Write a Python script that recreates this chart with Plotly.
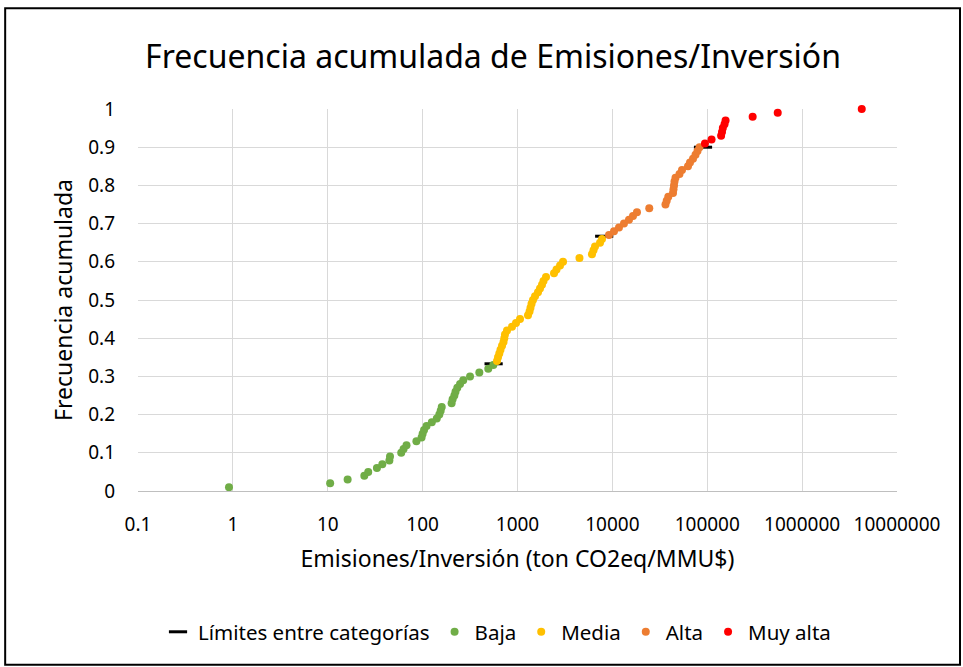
import plotly.graph_objects as go

# Cumulative frequency by emissions/investment ratio (ton CO2eq / MMU$)
baja_x = [0.91, 10.6, 16.2, 24.3, 26.7, 33, 37.6, 44.6, 45.3, 59.5, 63, 67.6, 86,
          97.5, 100, 103.5, 110, 125, 141, 150, 155, 159, 202, 207, 216, 222, 232,
          248, 268, 316, 396, 492, 556]
media_x = [608, 623, 643, 662, 687, 712, 726, 738, 775, 875, 964, 1063, 1290, 1339,
           1371, 1406, 1456, 1530, 1644, 1726, 1812, 1880, 1997, 2426, 2578, 2808,
           3019, 4500, 6095, 6323, 6561, 7408, 7780]
alta_x = [9210, 10400, 11740, 13250, 14960, 16490, 18160, 24480, 36290, 37380, 38850,
          43550, 44070, 44620, 45150, 46270, 50970, 54170, 62660, 65770, 70760, 75180,
          78920, 82850]
muy_alta_x = [94600, 111000, 140000, 143000, 146000, 152000, 156000, 301000, 553000,
              4250000]

n_total = 100
baja_y = [(i + 1) / n_total for i in range(len(baja_x))]
media_y = [(len(baja_x) + i + 1) / n_total for i in range(len(media_x))]
alta_y = [(len(baja_x) + len(media_x) + i + 1) / n_total for i in range(len(alta_x))]
muy_alta_y = [(len(baja_x) + len(media_x) + len(alta_x) + i + 1) / n_total
              for i in range(len(muy_alta_x))]

limites_x = [560, 8200, 90200]
limites_y = [0.333, 0.667, 0.9]

x_ticks = [0.1, 1, 10, 100, 1000, 10000, 100000, 1000000, 10000000]
x_tick_text = ["0.1", "1", "10", "100", "1000", "10000", "100000", "1000000", "10000000"]
y_ticks = [0, 0.1, 0.2, 0.3, 0.4, 0.5, 0.6, 0.7, 0.8, 0.9, 1]
y_tick_text = ["0", "0.1", "0.2", "0.3", "0.4", "0.5", "0.6", "0.7", "0.8", "0.9", "1"]

FONT = "Noto Sans"
DOT = 8

fig = go.Figure()
fig.add_trace(go.Scatter(
    x=limites_x, y=limites_y, mode="markers", name="Límites entre categorías",
    marker=dict(symbol="line-ew", size=13, color="black",
                line=dict(color="black", width=3)),
    cliponaxis=False,
))
for name, xs, ys, color in [
    ("Baja", baja_x, baja_y, "#70AD47"),
    ("Media", media_x, media_y, "#FFC000"),
    ("Alta", alta_x, alta_y, "#ED7D31"),
    ("Muy alta", muy_alta_x, muy_alta_y, "#FF0000"),
]:
    fig.add_trace(go.Scatter(
        x=xs, y=ys, mode="markers", name=name,
        marker=dict(symbol="circle", size=DOT, color=color, line=dict(width=0)),
        cliponaxis=False,
    ))

fig.update_layout(
    width=963, height=667,
    margin=dict(l=138, r=66, t=109, b=176),
    paper_bgcolor="white", plot_bgcolor="white",
    font=dict(family=FONT, color="black", size=19),
    title=dict(text="Frecuencia acumulada de Emisiones/Inversión",
               x=0.512, xanchor="center", y=1 - 57 / 667, yanchor="middle",
               font=dict(size=32, family=FONT, color="black")),
    showlegend=True,
    legend=dict(orientation="h", x=0.473, xanchor="center", y=-0.369,
                yanchor="middle", font=dict(size=20.5, family=FONT),
                itemsizing="trace", bgcolor="rgba(0,0,0,0)"),
    shapes=[dict(type="rect", xref="paper", yref="paper",
                 x0=-0.175, x1=1.083, y0=-0.455, y1=1.264,
                 line=dict(color="black", width=2), fillcolor="rgba(0,0,0,0)",
                 layer="below")],
)
fig.update_xaxes(
    type="log", range=[-1, 7], tickvals=x_ticks, ticktext=x_tick_text,
    showgrid=True, gridcolor="#D9D9D9", gridwidth=1.3,
    showline=True, linecolor="#BFBFBF", linewidth=1, zeroline=False,
    ticks="", ticklen=0, ticklabelstandoff=16,
    tickfont=dict(size=19, family=FONT),
    title=dict(text="Emisiones/Inversión (ton CO2eq/MMU$)",
               font=dict(size=23, family=FONT), standoff=15),
)
fig.update_yaxes(
    range=[0, 1], tickvals=y_ticks, ticktext=y_tick_text,
    showgrid=True, gridcolor="#D9D9D9", gridwidth=1.3,
    showline=False, zeroline=False, ticks="", ticklen=0, ticklabelstandoff=22,
    tickfont=dict(size=19, family=FONT),
    title=dict(text="Frecuencia acumulada", font=dict(size=23, family=FONT),
               standoff=9),
)

fig.write_html("out.html")
